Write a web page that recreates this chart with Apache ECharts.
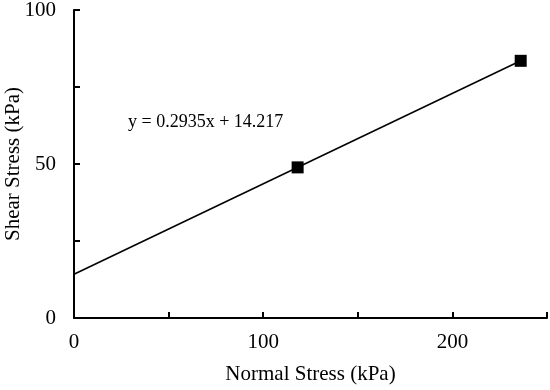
<!DOCTYPE html>
<html><head><meta charset="utf-8">
<script src="https://cdn.jsdelivr.net/npm/echarts@6/dist/echarts.min.js"></script>
<style>html,body{margin:0;padding:0;background:#fff}#c{width:550px;height:390px}</style>
</head><body><div id="c"></div>
<script>
const normalStress = [118.2, 236.1];
const shearStress = [48.9, 83.5];
const slope = 0.2935, intercept = 14.217;
const trendX = [0, 236.1];
const equationText = 'y = 0.2935x + 14.217';
const xLabels = [0, 100, 200];
const yLabels = [0, 50, 100];

const font = 'Liberation Serif, Times New Roman, serif';
const chart = echarts.init(document.getElementById('c'));
const axisCommon = {
  axisLine: {show: true, lineStyle: {color: '#000', width: 2}},
  axisTick: {show: true, inside: true, length: 6, lineStyle: {color: '#000', width: 2}},
  splitLine: {show: false},
  nameMoveOverlap: false,
  nameTextStyle: {fontFamily: font, fontSize: 21, color: '#000'},
};
chart.setOption({
  animation: false,
  grid: {left: 74, right: 3, top: 10, bottom: 72, outerBoundsMode: 'none', containLabel: false},
  xAxis: Object.assign({}, axisCommon, {
    type: 'value', min: 0, max: 250, interval: 50,
    name: 'Normal Stress (kPa)', nameLocation: 'middle', nameGap: 46,
    axisLabel: {fontFamily: font, fontSize: 21, color: '#000', margin: 14,
      formatter: v => xLabels.includes(v) ? String(v) : ''}
  }),
  yAxis: Object.assign({}, axisCommon, {
    type: 'value', min: 0, max: 100, interval: 25,
    name: 'Shear Stress (kPa)', nameLocation: 'middle', nameGap: 50,
    axisLabel: {fontFamily: font, fontSize: 21, color: '#000', margin: 18,
      formatter: v => yLabels.includes(v) ? String(v) : ''}
  }),
  series: [
    {type: 'line', data: trendX.map(x => [x, slope * x + intercept]), symbol: 'none',
     lineStyle: {color: '#000', width: 1.5}, silent: true},
    {type: 'scatter', data: normalStress.map((x, i) => [x, shearStress[i]]),
     symbol: 'rect', symbolSize: 12, itemStyle: {color: '#000', opacity: 1}}
  ],
  graphic: [{type: 'text', left: 128, top: 113,
    style: {text: equationText, font: '18px ' + font, fill: '#000'}}]
});
</script></body></html>
